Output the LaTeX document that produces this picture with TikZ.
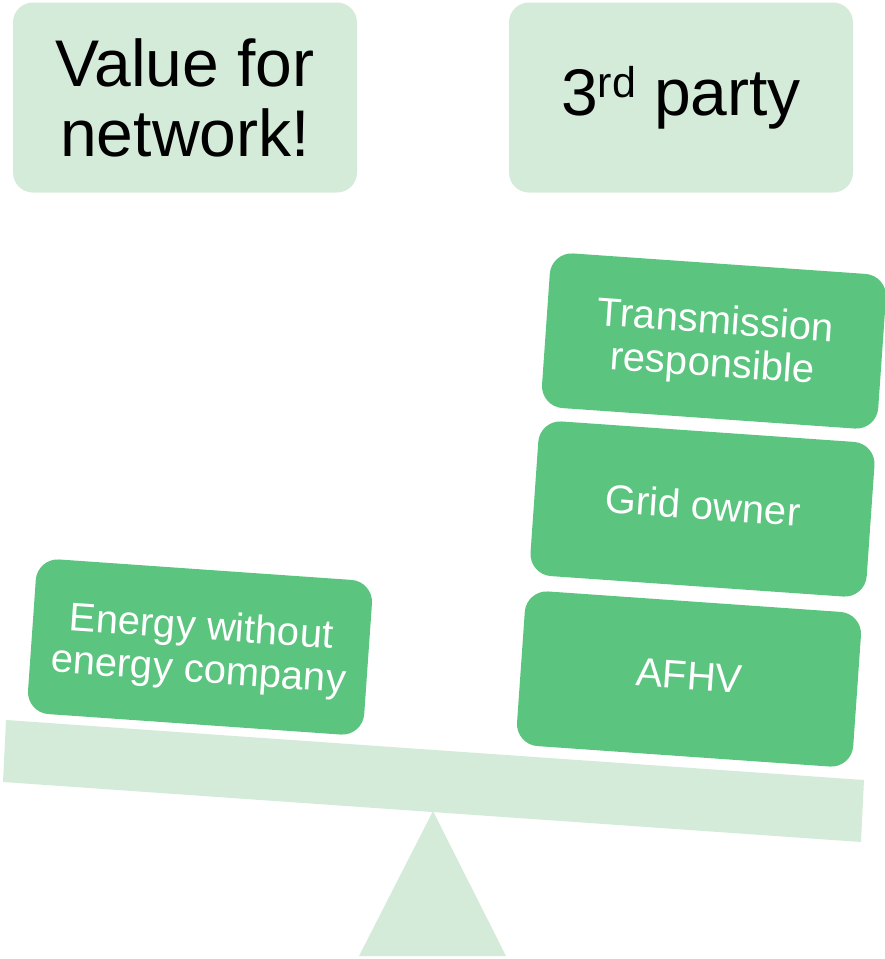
\documentclass[tikz,border=0pt]{standalone}
\usepackage{fontspec}
\setmainfont{Liberation Sans}
\definecolor{palegreen}{HTML}{D5EBDA}
\definecolor{boxgreen}{HTML}{5BC47E}
\newcommand{\lowstrut}{\rule{0pt}{36pt}}
\begin{document}
\begin{tikzpicture}[x=1pt,y=-1pt,
  topbox/.style={fill=palegreen, rounded corners=20pt, minimum width=344pt, minimum height=190pt,
    inner sep=0pt, align=center, font=\fontsize{66}{70}\selectfont},
  weight/.style={fill=boxgreen, text=white, rotate=-4, rounded corners=22pt, minimum width=337pt,
    minimum height=155pt, inner sep=0pt, align=center, font=\fontsize{40}{43}\selectfont},
  oneline/.style={text height=29pt, text depth=8.4pt},
  plank/.style={fill=palegreen}]
\useasboundingbox (0,0) rectangle (884,959);
% fulcrum and beam
\coordinate (bTL) at (6,720);
\coordinate (bTR) at (864,780);
\coordinate (bBR) at (861,842);
\coordinate (bBL) at (3,782);
\coordinate (apex) at (433,811);
\coordinate (baseL) at (359,956);
\coordinate (baseR) at (506,956);
\fill[plank] (apex) -- (baseR) -- (baseL) -- cycle;
\fill[plank] (bTL) -- (bTR) -- (bBR) -- (bBL) -- cycle;
% top labels
\node[topbox] (value) at (185,97.5) {Value for\\network!};
\node[topbox] (third) at (681,97.5) {3\raisebox{18pt}{\fontsize{43}{43}\selectfont rd} party};
% weights
\node[weight] (energy) at (200,647) {\lowstrut Energy without\\energy company};
\node[weight] (trans) at (714,341) {\lowstrut Transmission\\responsible};
\node[weight, oneline] (grid) at (702.5,509) {Grid owner};
\node[weight, oneline] (afhv) at (689,679) {AFHV};
\end{tikzpicture}
\end{document}
